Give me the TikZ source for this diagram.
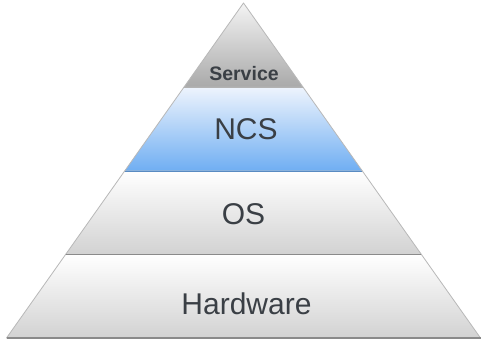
\documentclass[tikz,border=0pt]{standalone}
\usepackage{fontspec}
\setmainfont{Liberation Sans}
\definecolor{txt}{HTML}{3A3F45}
\definecolor{svtop}{HTML}{F4F4F4}
\definecolor{svbot}{HTML}{A9A9A9}
\definecolor{nctop}{HTML}{EEF4FD}
\definecolor{ncbot}{HTML}{6FAEF2}
\definecolor{wtop}{HTML}{FFFFFF}
\definecolor{wmid}{HTML}{F2F2F2}
\definecolor{wbot}{HTML}{D2D2D2}
\definecolor{edge}{HTML}{B8B8B8}
\definecolor{base}{HTML}{8A8A8A}
\begin{document}
\begin{tikzpicture}[x=1pt,y=-1pt,
  layer/.style={draw=edge, line width=0.8pt, line join=round},
  bottomline/.style={draw=base, line width=1.6pt},
  lbl/.style={text=txt, inner sep=0pt, anchor=base}]
\useasboundingbox (0,0) rectangle (481,345);
\fill[white] (0,0) rectangle (481,345);
% half width at y: 237*(y-3)/335, centre 243.5
% boundaries y = 3, 87, 171, 254.5, 338
\coordinate (A) at (243.5,3);
\coordinate (L1) at (184.08,87);   \coordinate (R1) at (302.92,87);
\coordinate (L2) at (124.65,171);  \coordinate (R2) at (362.35,171);
\coordinate (L3) at (65.58,254.5); \coordinate (R3) at (421.42,254.5);
\coordinate (L4) at (6.5,338);     \coordinate (R4) at (480.5,338);
% Hardware
\shade[top color=wtop, middle color=wmid, bottom color=wbot] (L3) -- (R3) -- (R4) -- (L4) -- cycle;
\draw[layer] (L3) -- (R3) -- (R4) -- (L4) -- cycle;
\draw[bottomline] (L4) -- (R4);
% OS
\shade[top color=wtop, middle color=wmid, bottom color=wbot] (L2) -- (R2) -- (R3) -- (L3) -- cycle;
\draw[layer] (L2) -- (R2) -- (R3) -- (L3) -- cycle;
\draw[bottomline] (L3) -- (R3);
% NCS
\shade[top color=nctop, bottom color=ncbot] (L1) -- (R1) -- (R2) -- (L2) -- cycle;
\draw[layer] (L1) -- (R1) -- (R2) -- (L2) -- cycle;
\draw[draw=ncbot!80!black, line width=1pt] (L2) -- (R2);
% Service
\shade[top color=svtop, bottom color=svbot] (A) -- (R1) -- (L1) -- cycle;
\draw[layer] (A) -- (R1) -- (L1) -- cycle;
\draw[draw=gray!60, line width=1pt] (L1) -- (R1);
% labels
\node[lbl, font=\bfseries\fontsize{19.5}{21}\selectfont] (service) at (244,80) {Service};
\node[lbl, font=\fontsize{30}{32}\selectfont] (ncs) at (246,139.5) {NCS};
\node[lbl, font=\fontsize{30}{32}\selectfont] (os) at (243.5,224) {OS};
\node[lbl, font=\fontsize{30}{32}\selectfont] (hw) at (246.5,314) {Hardware};
\end{tikzpicture}
\end{document}
